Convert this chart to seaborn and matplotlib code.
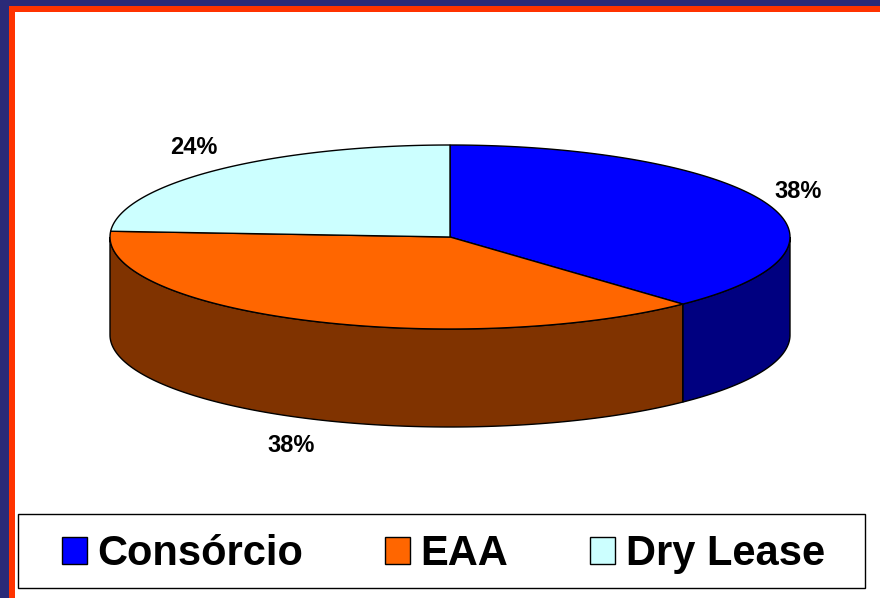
import numpy as np
import matplotlib
matplotlib.use("Agg")
import matplotlib.pyplot as plt
from matplotlib.patches import Polygon, Rectangle, Patch
import seaborn as sns

# chart data
labels = ["Consórcio", "EAA", "Dry Lease"]
shares = [38, 38, 24]
pct_labels = ["38%", "38%", "24%"]
top_colors = ["#0000FF", "#FF6600", "#CCFFFF"]
side_colors = ["#000080", "#803300", "#669999"]

sns.set_theme(style="white")
plt.rcParams["font.family"] = ["Liberation Sans", "DejaVu Sans"]

# pie geometry (pixel units, y pointing down)
cx, cy = 450, 237
a, b = 340, 92
depth = 98


def arc(t0, t1, n=120):
    t = np.radians(np.linspace(t0, t1, n))
    return np.column_stack([cx + a * np.cos(t), cy - b * np.sin(t)])


fig = plt.figure(figsize=(8.8, 5.98), dpi=100)
ax = fig.add_axes([0, 0, 1, 1])
ax.set_xlim(0, 880)
ax.set_ylim(598, 0)
ax.axis("off")

# slide frame
ax.add_patch(Rectangle((0, 0), 880, 6, color="#2A2A78", lw=0))
ax.add_patch(Rectangle((0, 0), 9, 598, color="#2A2A78", lw=0))
ax.add_patch(Rectangle((9, 6), 871, 6, color="#FF3300", lw=0))
ax.add_patch(Rectangle((9, 6), 6, 592, color="#FF3300", lw=0))

# slice angles, clockwise from 12 o'clock
total = sum(shares)
start = 90.0
angles = []
for s in shares:
    end = start - 360.0 * s / total
    angles.append((start, end))
    start = end

# side walls (front half only)
for (t_start, t_end), col in zip(angles, side_colors):
    for k in (-360, 0, 360):
        lo = max(t_end, -180 + k)
        hi = min(t_start, 0 + k)
        if hi - lo <= 0:
            continue
        top = arc(lo, hi)
        bot = arc(hi, lo) + [0, depth]
        ax.add_patch(Polygon(np.vstack([top, bot]), closed=True,
                             facecolor=col, edgecolor="black", lw=1, zorder=1))

# top faces
for (t_start, t_end), col in zip(angles, top_colors):
    pts = np.vstack([[cx, cy], arc(t_start, t_end)])
    ax.add_patch(Polygon(pts, closed=True, facecolor=col,
                         edgecolor="black", lw=1, zorder=2))

# percentage labels
for (t_start, t_end), txt in zip(angles, pct_labels):
    m = np.radians((t_start + t_end) / 2)
    x = cx + 1.1 * a * np.cos(m)
    y = cy - 1.33 * b * np.sin(m)
    if np.sin(m) < 0:
        y += depth
    ax.text(x, y, txt, ha="center", va="center", fontsize=17,
            fontweight="bold", color="black", zorder=3)

# legend
ax.add_patch(Rectangle((18, 514), 847, 74, facecolor="white",
                       edgecolor="black", lw=1, zorder=2))
handles = [Patch(facecolor=c, edgecolor="black", lw=1) for c in top_colors]
leg = ax.legend(handles, labels, loc="center",
                bbox_to_anchor=(62 / 880, 1 - 598 / 598, (825 - 62) / 880, 88 / 598),
                mode="expand", ncol=3, frameon=False, borderpad=0,
                borderaxespad=0, handlelength=0.6, handleheight=0.6,
                handletextpad=0.25, labelcolor="black",
                prop={"family": "Liberation Sans", "weight": "bold", "size": 30})
leg.set_zorder(3)

fig.savefig("out.png", dpi=100)
